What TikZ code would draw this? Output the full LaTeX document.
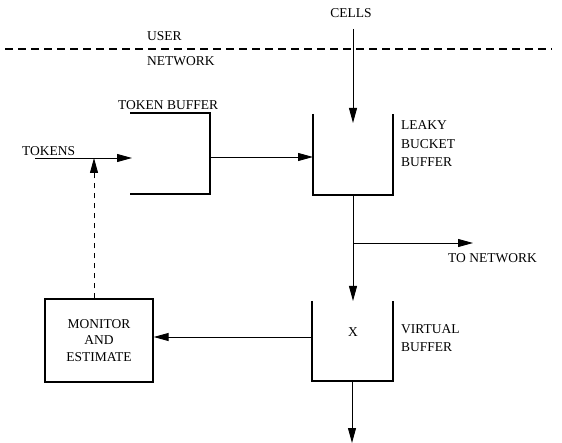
\documentclass[tikz,border=0pt]{standalone}
\usepackage{fontspec}
\setmainfont{Liberation Serif}
\usetikzlibrary{arrows.meta}
\begin{document}
\begin{tikzpicture}[x=1pt,y=-1pt,
  lbl/.style={font=\fontsize{13.5}{18.5}\selectfont, inner sep=0pt, anchor=west, align=left},
  ctr/.style={font=\fontsize{13.5}{18.5}\selectfont, inner sep=0pt, align=center},
  tip/.style={-{Triangle[length=15pt,width=8pt]}},
  flow/.style={line width=0.9pt, tip},
  wall/.style={line width=1.4pt},
  dashline/.style={line width=1.1pt, dash pattern=on 8pt off 5pt}]
\useasboundingbox (0,0) rectangle (562,443);
% texts
\node[ctr] (cells) at (351,13) {CELLS};
\node[lbl] (user) at (147,36) {USER};
\node[lbl] (net) at (147,61) {NETWORK};
\node[lbl] (tbuf) at (118,105) {TOKEN BUFFER};
\node[lbl] (tokens) at (22,151) {TOKENS};
\node[lbl] (lbb) at (401,144) {LEAKY\\BUCKET\\BUFFER};
\node[lbl] (tonet) at (448,258) {TO NETWORK};
\node[lbl] (vb) at (401,338) {VIRTUAL\\BUFFER};
\node[ctr] (x) at (353,332) {X};
% boundary
\coordinate (dl) at (5,49);
\coordinate (dr) at (552,49);
\draw[dashline] (dl) -- (dr);
% token buffer
\coordinate (tbtl) at (130,113);
\coordinate (tbtr) at (210,113);
\coordinate (tbbr) at (210,194);
\coordinate (tbbl) at (130,194);
\draw[wall] (tbtl) -- (tbtr) -- (tbbr) -- (tbbl);
% leaky bucket
\coordinate (lbtl) at (313,114);
\coordinate (lbbl) at (313,195);
\coordinate (lbbr) at (393,195);
\coordinate (lbtr) at (393,114);
\draw[wall] (lbtl) -- (lbbl) -- (lbbr) -- (lbtr);
% virtual buffer
\coordinate (vbtl) at (312,301);
\coordinate (vbbl) at (312,381);
\coordinate (vbbr) at (393,381);
\coordinate (vbtr) at (393,301);
\draw[wall] (vbtl) -- (vbbl) -- (vbbr) -- (vbtr);
% monitor
\node[draw, line width=1.3pt, minimum width=108pt, minimum height=83pt, inner sep=0pt,
      font=\fontsize{13.5}{16.5}\selectfont, align=center] (mon) at (99,340.5) {MONITOR\\AND\\ESTIMATE};
% connectors
\coordinate (cin) at (353,29);
\coordinate (cinend) at (353,123);
\draw[flow] (cin) -- (cinend);
\coordinate (tkin) at (35,158);
\coordinate (tkend) at (132,158);
\draw[flow] (tkin) -- (tkend);
\coordinate (tbout) at (210,157);
\coordinate (lbin) at (313,157);
\draw[flow] (tbout) -- (lbin);
\coordinate (lbout) at (353,195);
\coordinate (vbin) at (353,301);
\draw[flow] (lbout) -- (vbin);
\coordinate (br) at (353,243);
\coordinate (brend) at (473,243);
\draw[flow] (br) -- (brend);
\coordinate (vbout) at (352,381);
\coordinate (vbend) at (352,443);
\draw[flow] (vbout) -- (vbend);
\coordinate (vbleft) at (312,337);
\draw[flow] (vbleft) -- (mon.east |- vbleft);
\coordinate (fb) at (94,158);
\draw[line width=0.9pt, dash pattern=on 5pt off 5pt, tip] (mon.north -| fb) -- (fb);
\end{tikzpicture}
\end{document}
